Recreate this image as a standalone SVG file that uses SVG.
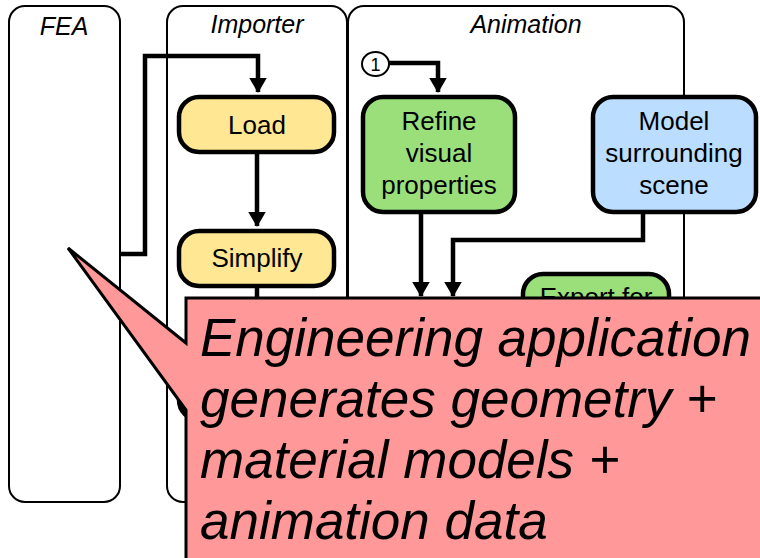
<svg xmlns="http://www.w3.org/2000/svg" width="760" height="558" viewBox="0 0 760 558">
  <style>
    .lane { fill: #ffffff; stroke: #000000; stroke-width: 2; }
    .lane-label { font-family: "Liberation Sans", Arial, sans-serif; font-style: italic; font-size: 25px; text-anchor: middle; fill: #000000; }
    .box { stroke: #000000; stroke-width: 4.5; }
    .importer { fill: #ffe793; }
    .refine { fill: #9bdf7b; }
    .scene { fill: #bbddff; }
    .label { font-family: "Liberation Sans", Arial, sans-serif; font-size: 26px; text-anchor: middle; fill: #000000; }
    .wire { fill: none; stroke: #000000; stroke-width: 4.5; stroke-linejoin: miter; }
    .callout { fill: #ff9999; stroke: #000000; stroke-width: 3; stroke-linejoin: miter; }
    .callout-text { font-family: "Liberation Sans", Arial, sans-serif; font-style: italic; font-size: 53px; fill: #000000; }
  </style>
  <defs>
    <marker id="arrow" markerWidth="4" markerHeight="4" refX="3.2" refY="2" orient="auto" markerUnits="strokeWidth">
      <path d="M0,0 L3.4,2 L0,4 Z" fill="#000000"/>
    </marker>
  </defs>

  <rect width="760" height="558" fill="#ffffff"/>

  <!-- swimlanes -->
  <g id="lane-fea">
    <rect class="lane" x="9" y="6" width="111" height="496" rx="16"/>
    <text class="lane-label" x="64" y="35">FEA</text>
  </g>
  <g id="lane-importer">
    <rect class="lane" x="167" y="6" width="180" height="496" rx="16"/>
    <text class="lane-label" x="257" y="33">Importer</text>
  </g>
  <g id="lane-animation">
    <rect class="lane" x="348" y="6" width="336" height="496" rx="16"/>
    <text class="lane-label" x="526" y="33">Animation</text>
  </g>

  <!-- connectors -->
  <g id="connectors">
    <path class="wire" d="M120,254 H145 V56 H258 V92" marker-end="url(#arrow)"/>
    <path class="wire" d="M257,153 V226" marker-end="url(#arrow)"/>
    <path class="wire" d="M257,287 V360"/>
    <path class="wire" d="M388,63 H438 V92" marker-end="url(#arrow)"/>
    <path class="wire" d="M421,212 V296" marker-end="url(#arrow)"/>
    <path class="wire" d="M643,212 V240 H453 V296" marker-end="url(#arrow)"/>
  </g>

  <!-- importer steps -->
  <g id="node-load">
    <rect class="box importer" x="179" y="97" width="155" height="55" rx="20"/>
    <text class="label" x="257" y="134">Load</text>
  </g>
  <g id="node-simplify">
    <rect class="box importer" x="179" y="231" width="155" height="55" rx="20"/>
    <text class="label" x="257" y="267">Simplify</text>
  </g>
  <g id="node-importer-3">
    <rect class="box importer" x="179" y="365" width="155" height="55" rx="20"/>
  </g>

  <!-- animation steps -->
  <g id="node-ref-1">
    <ellipse cx="375.5" cy="64" rx="13.5" ry="12" fill="#ffffff" stroke="#000000" stroke-width="2"/>
    <text x="375.5" y="70.5" font-family="Liberation Sans, Arial, sans-serif" font-size="18" text-anchor="middle">1</text>
  </g>
  <g id="node-refine">
    <rect class="box refine" x="363" y="97" width="152" height="115" rx="20"/>
    <text class="label" x="439" y="130">Refine</text>
    <text class="label" x="439" y="162">visual</text>
    <text class="label" x="439" y="194">properties</text>
  </g>
  <g id="node-scene">
    <rect class="box scene" x="593" y="97" width="163" height="115" rx="20"/>
    <text class="label" x="674" y="130">Model</text>
    <text class="label" x="674" y="162">surrounding</text>
    <text class="label" x="674" y="194">scene</text>
  </g>
  <g id="node-export">
    <rect class="box refine" x="523" y="274" width="146" height="80" rx="20"/>
    <text class="label" x="596" y="306">Export for</text>
  </g>

  <!-- speech-bubble note -->
  <g id="note">
    <path class="callout" d="M186,298 H763 V561 H186 V410 L68,248 L186,343 Z"/>
    <text class="callout-text" x="200" y="356">Engineering application</text>
    <text class="callout-text" x="200" y="417">generates geometry +</text>
    <text class="callout-text" x="200" y="478">material models +</text>
    <text class="callout-text" x="200" y="539">animation data</text>
  </g>
</svg>
